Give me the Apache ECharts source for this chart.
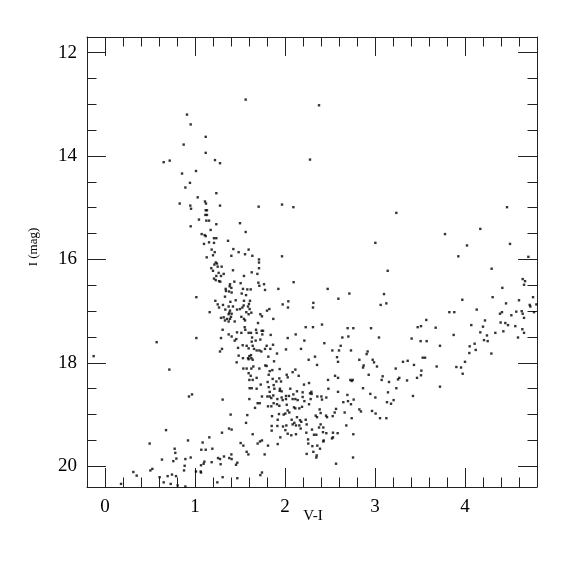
<!DOCTYPE html>
<html>
<head>
<meta charset="utf-8">
<script src="https://cdn.jsdelivr.net/npm/echarts@6/dist/echarts.min.js"></script>
<style>html,body{margin:0;padding:0;background:#fff}#c{width:575px;height:575px}</style>
</head>
<body>
<div id="c"></div>
<script>
// ---- DATA: [V-I, I(mag)] ----
const brightStars = [[0.911,13.20],[0.952,13.39],[1.119,13.63],[0.874,13.78],[1.119,13.94],[0.652,14.12],[0.719,14.09],[1.222,14.08],[1.278,14.14],[1.011,14.29],[0.856,14.34],[0.944,14.52],[0.893,14.61],[1.563,12.91],[2.378,13.02],[2.278,14.07]];
const blueSequence = [[1.237,14.72],[1.030,14.80],[1.111,14.88],[1.122,14.92],[0.830,14.92],[0.948,14.96],[1.278,14.96],[0.956,15.02],[1.119,15.05],[1.133,15.05],[1.115,15.14],[1.133,15.14],[1.044,15.23],[1.126,15.25],[1.156,15.25],[1.237,15.32],[0.952,15.36],[1.174,15.43],[1.074,15.51],[1.107,15.53],[1.119,15.55],[1.211,15.59],[1.237,15.59],[1.156,15.67],[1.211,15.68],[1.100,15.70],[1.367,15.64],[1.185,15.81],[1.219,15.86],[1.426,15.80],[1.200,15.92],[1.404,15.93],[1.130,15.96],[1.485,15.86],[1.230,16.06],[1.244,16.08],[1.215,16.10],[1.252,16.14],[1.181,16.17],[1.296,16.14],[1.422,16.21],[1.200,16.22],[1.263,16.26],[1.319,16.28],[1.289,16.32],[1.237,16.32],[1.211,16.37],[1.230,16.40],[1.267,16.42],[1.281,16.43],[1.437,16.43],[1.389,16.48],[1.385,16.52],[1.404,16.55],[1.341,16.57],[1.344,16.61],[1.378,16.62],[1.407,16.64],[1.015,16.73],[1.333,16.72],[1.226,16.80],[1.393,16.82],[1.452,16.79],[1.252,16.87],[1.311,16.88],[1.267,16.93],[1.374,16.91],[1.422,16.91],[1.337,16.97],[1.389,16.99],[1.467,16.97],[1.163,17.02],[1.381,17.03],[1.374,17.06],[1.407,17.05],[1.289,17.13],[1.319,17.12],[1.400,17.11],[1.356,17.15],[1.389,17.15],[1.333,17.18],[1.374,17.20],[1.441,17.20],[1.307,17.36],[1.467,17.41],[1.374,17.45],[1.407,17.49],[1.015,17.52]];
const midBright = [[1.967,14.94],[1.707,14.98],[2.093,14.99],[1.500,15.30],[1.563,15.47],[3.004,15.68],[1.596,15.81],[1.556,15.90],[1.637,15.93],[1.967,15.94],[1.711,16.00],[1.711,16.06],[1.711,16.17],[1.630,16.25],[1.693,16.28],[3.141,16.22],[1.544,16.32],[1.507,16.46],[1.704,16.45],[1.767,16.48],[1.715,16.51],[2.096,16.44],[1.533,16.57],[1.581,16.58],[1.619,16.58],[1.778,16.59],[1.926,16.57],[2.474,16.57],[1.519,16.66],[1.567,16.69],[2.715,16.66],[3.100,16.67],[2.593,16.76],[1.544,16.80],[1.611,16.80],[2.037,16.81],[1.974,16.87],[2.315,16.84],[3.126,16.85],[3.063,16.88],[1.600,16.86],[1.541,16.89],[1.589,16.91],[2.033,16.93],[2.311,16.93],[1.500,16.96],[1.526,16.93],[1.607,16.96],[1.826,16.96],[1.800,16.99],[1.570,17.02],[1.626,17.03],[1.596,17.06],[1.726,17.06],[1.744,17.10],[1.515,17.11],[1.544,17.15],[1.556,17.18],[1.870,17.15],[1.700,17.23],[2.411,17.26],[2.230,17.31],[2.311,17.31],[2.696,17.33],[2.759,17.33],[2.956,17.33],[1.552,17.31],[1.559,17.36],[1.741,17.38],[1.756,17.38],[1.678,17.36],[1.515,17.42],[1.596,17.42],[1.622,17.42],[1.685,17.42],[1.748,17.45],[1.841,17.46],[2.119,17.45]];
const redBright = [[3.237,15.10],[4.467,14.99],[3.778,15.51],[4.170,15.41],[4.500,15.70],[4.022,15.73],[3.926,15.94],[4.704,15.95],[4.296,16.18],[4.641,16.38],[4.667,16.42],[4.656,16.49],[4.415,16.55],[4.307,16.73],[4.756,16.73],[3.970,16.78],[4.600,16.79],[4.456,16.85],[4.719,16.88],[4.726,16.91],[4.793,16.87],[4.130,16.97],[3.826,17.02],[3.881,17.02],[4.411,17.02],[4.389,17.05],[4.570,17.01],[4.630,17.00],[4.641,17.05],[4.767,17.02],[4.515,17.08],[4.656,17.13],[3.570,17.17],[4.222,17.18],[4.396,17.22],[4.448,17.23],[4.070,17.27],[4.478,17.27],[4.559,17.29],[3.474,17.31],[3.511,17.29],[3.674,17.32],[4.200,17.30],[4.637,17.35],[4.426,17.39],[4.170,17.41],[4.337,17.42],[4.656,17.42],[3.874,17.46],[4.244,17.47],[4.589,17.51]];
const redFaint = [[3.407,17.53],[3.507,17.58],[3.574,17.58],[4.211,17.56],[4.252,17.58],[4.107,17.63],[4.052,17.68],[3.722,17.67],[4.119,17.75],[4.048,17.81],[4.293,17.82],[3.530,17.90],[3.556,17.90],[3.363,17.96],[3.311,17.98],[4.000,17.98],[3.433,18.04],[3.685,18.07],[3.904,18.08],[3.956,18.09],[3.230,18.11],[3.515,18.15],[3.974,18.21],[3.511,18.24],[3.467,18.29],[3.270,18.29],[3.256,18.32],[3.356,18.34],[3.156,18.37],[3.722,18.46],[3.237,18.49],[3.144,18.57],[3.422,18.64],[3.207,18.72],[3.133,18.76],[3.178,18.79],[3.126,19.07]];
const blueFaint = [[-0.126,17.87],[0.574,17.60],[1.289,17.52],[1.459,17.54],[1.441,17.57],[1.300,17.73],[1.278,17.78],[1.463,17.99],[0.715,18.13],[0.933,18.65],[0.967,18.61],[1.307,18.71],[1.396,19.00],[1.378,19.27],[1.407,19.29],[1.300,19.35],[0.678,19.30],[1.159,19.44],[0.922,19.50],[1.085,19.54],[0.496,19.56],[1.193,19.66],[0.774,19.66],[1.070,19.68],[1.119,19.68],[0.781,19.74],[0.952,19.83],[0.793,19.85],[0.893,19.86],[0.633,19.87],[1.256,19.84],[1.278,19.86],[1.322,19.81],[1.381,19.84],[1.404,19.77],[1.407,19.86],[0.759,19.90],[1.104,19.91],[1.185,19.92],[1.096,19.95],[1.285,19.96],[1.067,19.98],[0.885,19.99],[1.456,19.97],[1.470,19.93],[0.526,20.05],[0.504,20.08],[1.011,20.10],[1.067,20.12],[1.063,20.10],[0.878,20.08],[0.315,20.11],[0.352,20.18],[0.744,20.16],[0.696,20.19],[0.789,20.19],[0.607,20.21],[1.307,20.21],[1.470,20.23],[0.652,20.31],[0.730,20.34],[1.248,20.31],[0.178,20.34],[0.807,20.37],[0.893,20.39]];
const faintCore = [[1.634,17.51],[1.674,17.57],[1.726,17.55],[2.030,17.52],[2.215,17.57],[2.437,17.62],[2.637,17.51],[2.704,17.49],[3.044,17.51],[1.630,17.59],[1.530,17.66],[1.574,17.67],[1.596,17.72],[1.641,17.67],[1.656,17.73],[1.685,17.76],[1.715,17.76],[1.737,17.78],[1.796,17.67],[1.778,17.73],[1.837,17.73],[1.867,17.65],[1.911,17.82],[2.011,17.74],[2.178,17.73],[2.526,17.76],[2.619,17.67],[2.600,17.76],[2.733,17.76],[2.918,17.78],[2.907,17.83],[1.478,17.71],[1.485,17.86],[1.533,17.91],[1.604,17.87],[1.589,17.91],[1.626,17.91],[1.622,17.85],[1.596,17.93],[1.641,17.94],[1.815,17.88],[1.878,17.97],[2.263,17.94],[2.333,17.88],[2.356,18.04],[2.578,17.89],[2.589,17.98],[2.826,17.94],[2.974,17.94],[2.989,17.99],[3.022,18.07],[2.874,18.05],[2.867,18.09],[1.537,18.11],[1.574,18.11],[1.626,18.11],[1.648,18.07],[1.715,18.11],[1.781,18.05],[1.796,18.06],[1.830,18.16],[1.859,18.14],[1.941,18.12],[2.019,18.23],[2.030,18.28],[2.085,18.18],[2.115,18.13],[2.152,18.25],[2.930,18.23],[3.085,18.26],[3.074,18.33],[2.556,18.25],[2.589,18.29],[1.596,18.20],[1.619,18.25],[1.685,18.29],[1.604,18.33],[1.641,18.33],[1.819,18.23],[1.863,18.31],[1.904,18.36],[1.956,18.36],[1.874,18.43],[1.730,18.42],[1.807,18.37],[1.937,18.30],[2.211,18.42],[2.267,18.39],[2.478,18.33],[2.726,18.33],[2.752,18.33],[2.741,18.35],[1.607,18.49],[1.630,18.49],[1.685,18.50],[1.819,18.47],[1.882,18.50],[1.830,18.56],[1.944,18.50],[1.963,18.55],[1.941,18.54],[2.059,18.50],[2.133,18.55],[2.011,18.64],[2.093,18.61],[2.196,18.57],[2.293,18.56],[2.278,18.59],[2.296,18.60],[2.482,18.50],[2.589,18.56],[2.693,18.62],[2.867,18.49],[2.948,18.60],[3.004,18.67],[1.744,18.65],[1.804,18.65],[1.830,18.65],[1.848,18.68],[1.870,18.63],[1.915,18.70],[1.963,18.67],[1.974,18.72],[2.011,18.70],[2.044,18.64],[2.085,18.70],[2.115,18.70],[2.141,18.72],[2.196,18.66],[2.215,18.74],[2.285,18.70],[2.359,18.65],[2.404,18.65],[2.411,18.71],[2.459,18.67],[2.700,18.74],[2.763,18.71],[2.733,18.80],[2.648,18.76],[1.604,18.70],[1.719,18.78],[1.696,18.78],[1.811,18.84],[1.848,18.84],[1.911,18.80],[1.937,18.83],[1.874,18.78],[2.100,18.86],[2.115,18.88],[2.159,18.88],[2.189,18.85],[2.267,18.80],[2.019,18.81],[2.030,18.92],[2.048,18.96],[2.004,18.98],[1.985,19.00],[1.667,18.87],[1.933,18.99],[1.856,19.03],[2.074,19.10],[2.133,19.05],[2.167,19.11],[2.104,19.16],[2.122,19.21],[2.085,19.19],[2.159,19.21],[2.181,19.14],[2.230,19.10],[2.241,19.19],[2.341,19.02],[2.356,19.05],[2.385,18.90],[2.396,18.97],[2.456,19.02],[2.467,19.05],[2.530,19.03],[2.552,18.96],[2.567,18.89],[2.663,18.96],[2.741,19.07],[2.826,18.90],[2.844,18.94],[2.967,18.93],[3.007,18.98],[3.056,19.07],[1.581,19.01],[1.567,19.16],[1.915,19.22],[1.919,19.10],[1.852,19.22],[1.852,19.31],[2.015,19.21],[1.978,19.23],[2.004,19.30],[2.174,19.27],[2.237,19.35],[2.300,19.29],[2.322,19.39],[2.348,19.39],[2.396,19.19],[2.378,19.25],[2.426,19.25],[2.422,19.34],[2.459,19.36],[2.533,19.35],[2.585,19.36],[2.533,19.44],[2.430,19.50],[2.681,19.21],[2.759,19.38],[2.756,19.83],[1.641,19.38],[1.948,19.44],[2.030,19.37],[2.070,19.40],[2.122,19.38],[2.256,19.48],[2.259,19.56],[2.304,19.61],[2.359,19.60],[2.389,19.66],[2.426,19.52],[2.522,19.46],[2.567,19.95],[1.507,19.55],[1.537,19.60],[1.696,19.56],[1.722,19.52],[1.744,19.50],[1.811,19.60],[1.919,19.57],[1.574,19.72],[1.593,19.77],[1.774,19.77],[1.744,20.12],[1.726,20.17],[2.241,19.76],[2.315,19.72],[2.352,19.79],[2.348,19.83]];

// ---- AXES / TICKS ----
const xRange = [-0.2, 4.8];
const yRange = [11.7, 20.4];
const xMajorTicks = [0, 1, 2, 3, 4];
const xMinorTicks = [-0.2, 0, 0.2, 0.4, 0.6, 0.8, 1, 1.2, 1.4, 1.6, 1.8, 2, 2.2, 2.4, 2.6, 2.8, 3, 3.2, 3.4, 3.6, 3.8, 4, 4.2, 4.4, 4.6, 4.8];
const yMajorTicks = [12, 14, 16, 18, 20];
const yMinorTicks = [12, 12.5, 13, 13.5, 14, 14.5, 15, 15.5, 16, 16.5, 17, 17.5, 18, 18.5, 19, 19.5, 20];
const xTitle = 'V-I';
const yTitle = 'I (mag)';

const allStars = [].concat(brightStars, blueSequence, midBright, redBright, redFaint, blueFaint, faintCore);

const FONT = 'Liberation Serif';
const lineCol = '#222';

function xAx(pos, major, labels) {
  return {
    type: 'value', position: pos, min: xRange[0], max: xRange[1],
    axisLine: { show: major, onZero: false, lineStyle: { color: lineCol, width: 1 } },
    axisTick: { show: true, inside: true, length: major ? 19 : 9.5, customValues: major ? xMajorTicks : xMinorTicks, lineStyle: { color: lineCol, width: 1 } },
    axisLabel: { show: labels, customValues: xMajorTicks, margin: 11, fontFamily: FONT, fontSize: 19, color: '#000' },
    splitLine: { show: false }
  };
}
function yAx(pos, major, labels) {
  return {
    type: 'value', position: pos, inverse: true, min: yRange[0], max: yRange[1],
    axisLine: { show: major, onZero: false, lineStyle: { color: lineCol, width: 1 } },
    axisTick: { show: true, inside: true, length: major ? 19 : 9.5, customValues: major ? yMajorTicks : yMinorTicks, lineStyle: { color: lineCol, width: 1 } },
    axisLabel: { show: labels, customValues: yMajorTicks, margin: 10, fontFamily: FONT, fontSize: 19, color: '#000' },
    splitLine: { show: false }
  };
}

const chart = echarts.init(document.getElementById('c'), null, { renderer: 'canvas' });
chart.setOption({
  animation: false,
  backgroundColor: '#fff',
  grid: { left: 87, right: 38, top: 37, bottom: 88, containLabel: false },
  xAxis: [xAx('bottom', true, true), xAx('bottom', false, false), xAx('top', true, false), xAx('top', false, false)],
  yAxis: [yAx('left', true, true), yAx('left', false, false), yAx('right', true, false), yAx('right', false, false)],
  series: [{
    type: 'scatter', xAxisIndex: 0, yAxisIndex: 0,
    symbol: 'rect', symbolSize: 2.4,
    itemStyle: { color: '#000' },
    data: allStars, silent: true
  }],
  graphic: [
    { type: 'text', x: 313, y: 516, style: { text: xTitle, font: '15px "Liberation Serif"', fill: '#000', align: 'center', verticalAlign: 'middle' } },
    { type: 'text', x: 34, y: 247, rotation: Math.PI / 2, style: { text: yTitle, font: '13px "Liberation Serif"', fill: '#000', align: 'center', verticalAlign: 'middle' } }
  ]
});
</script>
</body>
</html>
